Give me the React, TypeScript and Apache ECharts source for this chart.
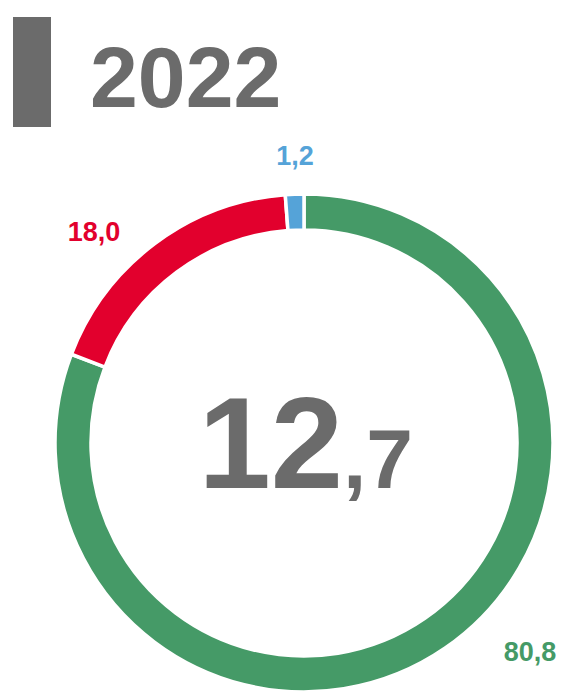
import React, { useEffect, useRef } from "react";
import * as echarts from "echarts";

const categories = ["Green", "Red", "Blue"];
const values = [80.8, 18.0, 1.2];
const colors = ["#459a67", "#e2002d", "#55a3d8"];
const titleText = "2022";
const centerInt = "12";
const centerDec = ",7";

const fmt = (v: number) => v.toFixed(1).replace(".", ",");

export default function App() {
  const ref = useRef<HTMLDivElement>(null);
  useEffect(() => {
    if (!ref.current) return;
    const chart = echarts.init(ref.current, null, { renderer: "svg" });
    const labelPos = [
      [530, 652],
      [94, 232],
      [295, 156],
    ];
    const font = "'Liberation Sans', Arial, sans-serif";
    chart.setOption({
      animation: false,
      backgroundColor: "#ffffff",
      series: [
        {
          type: "pie",
          center: [304, 443],
          radius: [213, 249],
          startAngle: 90,
          clockwise: true,
          label: { show: false },
          labelLine: { show: false },
          silent: true,
          itemStyle: { borderColor: "#ffffff", borderWidth: 3.5 },
          data: categories.map((c, i) => ({
            name: c,
            value: values[i],
            itemStyle: { color: colors[i] },
          })),
        },
      ],
      graphic: [
        {
          type: "rect",
          shape: { x: 13, y: 17, width: 38, height: 110 },
          style: { fill: "#6b6b6b" },
        },
        {
          type: "text",
          x: 90,
          y: 77,
          style: {
            text: titleText,
            font: `bold 86px ${font}`,
            fill: "#6b6b6b",
            textAlign: "left",
            textVerticalAlign: "middle",
          },
        },
        {
          type: "text",
          x: 343,
          y: 443,
          style: {
            text: centerInt,
            font: `bold 130px ${font}`,
            fill: "#6b6b6b",
            textAlign: "right",
            textVerticalAlign: "middle",
          },
        },
        {
          type: "text",
          x: 343,
          y: 459,
          style: {
            text: centerDec,
            font: `bold 84px ${font}`,
            fill: "#6b6b6b",
            textAlign: "left",
            textVerticalAlign: "middle",
          },
        },
        ...values.map((v, i) => ({
          type: "text",
          x: labelPos[i][0],
          y: labelPos[i][1],
          style: {
            text: fmt(v),
            font: `bold 27px ${font}`,
            fill: colors[i],
            textAlign: "center",
            textVerticalAlign: "middle",
          },
        })),
      ],
    });
    return () => chart.dispose();
  }, []);
  return (
    <div
      ref={ref}
      style={{ position: "fixed", left: 0, top: 0, width: 561, height: 691 }}
    />
  );
}
